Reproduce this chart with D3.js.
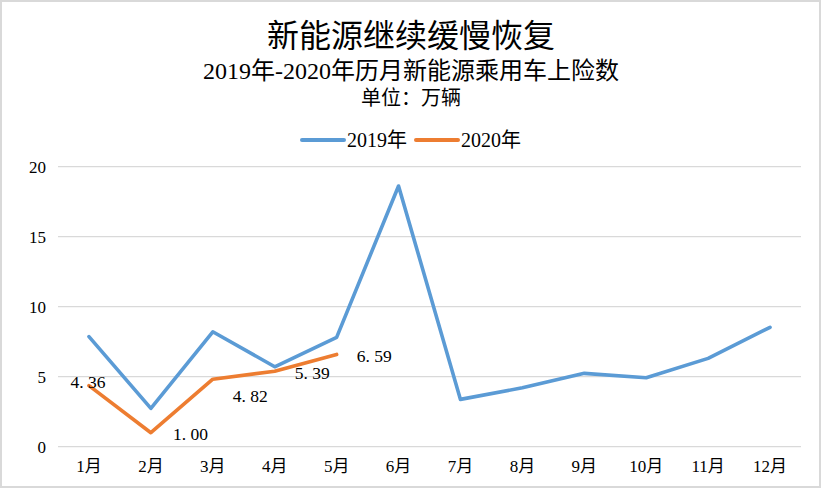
<!DOCTYPE html>
<html><head><meta charset="utf-8">
<script src="https://cdn.jsdelivr.net/npm/d3@7"></script>
<style>
html,body{margin:0;padding:0;background:#fff;}
text{font-family:"Liberation Serif","Noto Sans CJK SC",serif;fill:#000;}
</style></head>
<body><svg id="c" width="824" height="490"></svg>
<script>
const months = ["1月","2月","3月","4月","5月","6月","7月","8月","9月","10月","11月","12月"];
const seriesNames = ["2019年","2020年"];
const values2019 = [7.86,2.74,8.21,5.71,7.81,18.62,3.38,4.21,5.24,4.93,6.31,8.53];
const values2020 = [4.36,1.00,4.82,5.39,6.59];
const yTicks = [0,5,10,15,20];
const colors = ["#5b9bd5","#ed7d31"];
const title = "新能源继续缓慢恢复";
const subtitle = "2019年-2020年历月新能源乘用车上险数";
const unit = "单位：万辆";

const svg = d3.select("#c");
svg.append("rect").attr("x",1).attr("y",1).attr("width",819).attr("height",486)
  .attr("fill","#fff").attr("stroke","#d9d9d9").attr("stroke-width",2);

const m = {left:58, right:801, top:166.7, bottom:446.7};
const x = d3.scaleBand().domain(months).range([m.left,m.right]);
const y = d3.scaleLinear().domain([0,20]).range([m.bottom,m.top]);
const cx = d => x(d) + x.bandwidth()/2;

// grid
svg.append("g").selectAll("line").data(yTicks).join("line")
  .attr("x1",m.left).attr("x2",m.right)
  .attr("y1",d=>y(d)).attr("y2",d=>y(d))
  .attr("stroke","#d9d9d9").attr("stroke-width",1.2);

// y axis
const yAxis = svg.append("g").attr("transform",`translate(${m.left},0)`)
  .call(d3.axisLeft(y).tickValues(yTicks).tickSize(0).tickPadding(12));
yAxis.select(".domain").remove();
yAxis.selectAll("text").attr("font-size",17).attr("font-family",null);

// x axis
const xAxis = svg.append("g").attr("transform",`translate(0,${m.bottom})`)
  .call(d3.axisBottom(x).tickSize(0).tickPadding(13));
xAxis.select(".domain").remove();
xAxis.selectAll("text").attr("font-size",17).attr("font-family",null);

// lines
const line = d3.line().x((d,i)=>cx(months[i])).y(d=>y(d));
[values2019, values2020].forEach((vals,k)=>{
  svg.append("path").datum(vals).attr("d",line)
    .attr("fill","none").attr("stroke",colors[k]).attr("stroke-width",3.6)
    .attr("stroke-linejoin","round").attr("stroke-linecap","round");
});

// data labels for 2020
const labelDx = [-1,22,20,20,20];
const labelDy = [-4,1,17,2,1];
svg.append("g").selectAll("text").data(values2020).join("text")
  .attr("x",(d,i)=>cx(months[i])+labelDx[i])
  .attr("y",(d,i)=>y(d)+labelDy[i])
  .attr("dy","0.35em")
  .attr("font-size",17.5)
  .attr("text-anchor",(d,i)=>i===0?"middle":"start")
  .text(d=>d3.format(".2f")(d).replace(".",". "));

// titles
svg.append("text").attr("x",411).attr("y",47).attr("text-anchor","middle")
  .attr("font-size",32).text(title);
svg.append("text").attr("x",411).attr("y",79).attr("text-anchor","middle")
  .attr("font-size",24).text(subtitle);
svg.append("text").attr("x",411).attr("y",105).attr("text-anchor","middle")
  .attr("font-size",20).text(unit);

// legend
const legX = [302,416];
seriesNames.forEach((n,k)=>{
  const g = svg.append("g");
  g.append("line").attr("x1",legX[k]).attr("x2",legX[k]+42).attr("y1",140).attr("y2",140)
    .attr("stroke",colors[k]).attr("stroke-width",4).attr("stroke-linecap","round");
  g.append("text").attr("x",legX[k]+45).attr("y",140).attr("dy","0.35em")
    .attr("font-size",20).text(n);
});
</script></body></html>
